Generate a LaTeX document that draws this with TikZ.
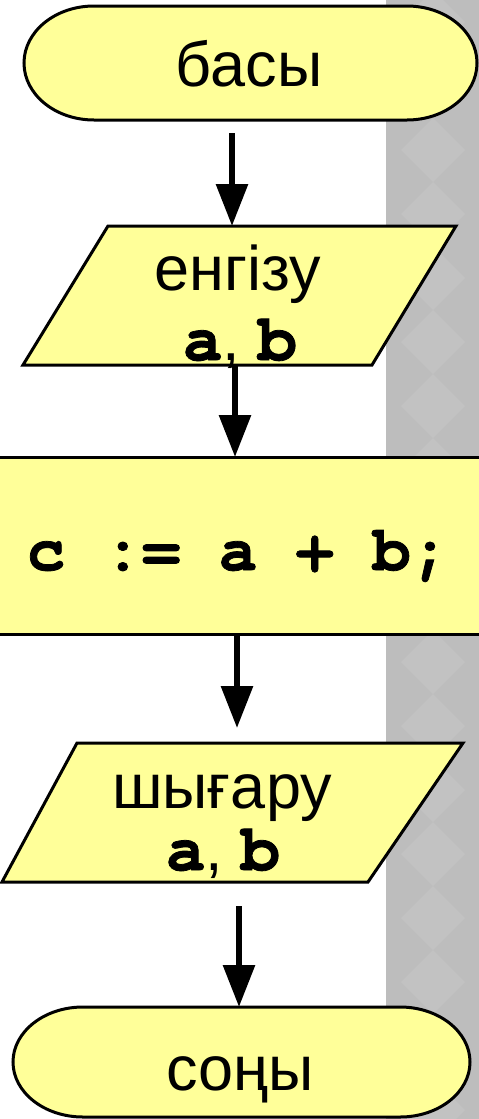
\documentclass[tikz,border=0pt]{standalone}
\usepackage{fontspec}
\setmainfont{Liberation Sans}
\newfontfamily\cmono{texgyrecursor}[Extension=.otf, UprightFont=*-bold, BoldFont=*-bold, FakeBold=1.2]
\usetikzlibrary{arrows.meta}
\definecolor{fyel}{RGB}{255,255,153}
\definecolor{bgdark}{RGB}{189,189,189}
\definecolor{bglight}{RGB}{194,194,194}
\newcommand{\mf}[1]{{\cmono\fontsize{66}{66}\selectfont #1}}
\tikzset{
  box/.style={line width=3pt, draw=black, fill=fyel},
  holder/.style={inner sep=0pt, outer sep=0pt},
  arr/.style={line width=6pt, -{Triangle[length=42pt,width=31pt]}},
  lbl/.style={inner sep=0pt, anchor=base, font=\fontsize{63}{63}\selectfont},
  monolbl/.style={inner sep=0pt, anchor=base, font=\cmono\fontsize{64}{64}\selectfont}
}
\begin{document}
\begin{tikzpicture}[x=1pt,y=1pt]
\useasboundingbox (0,0) rectangle (479,-1119);
% background strip
\begin{scope}
  \clip (386,0) rectangle (479,-1119);
  \fill[bgdark] (386,0) rectangle (479,-1119);
  \foreach \k in {-3,...,18} {
    \fill[bglight] (433,-150-64*\k+32) -- (465,-150-64*\k) -- (433,-150-64*\k-32) -- (401,-150-64*\k) -- cycle;
  }
\end{scope}

% start terminator
\node[holder, minimum width=453pt, minimum height=114pt] (start) at (250.5,-63) {};
\draw[box] ([xshift=70pt]start.north west) -- ([xshift=-70pt]start.north east)
  arc[start angle=90, end angle=-90, x radius=70pt, y radius=57pt]
  -- ([xshift=70pt]start.south west)
  arc[start angle=270, end angle=90, x radius=70pt, y radius=57pt] -- cycle;
\node[lbl] (tstart) at (249,-86) {басы};

% input parallelogram
\node[holder, minimum width=349pt, minimum height=139pt] (in1) at (239.5,-295.5) {};
\draw[box] (108,-226) -- (456,-226) -- (372,-365) -- (23,-365) -- cycle;
\node[lbl] (tin1) at (238,-290) {енгізу};
\node[lbl] (tin2) at (240,-360) {\mf{a}, \mf{b}};

% process
\node[holder, minimum width=490pt, minimum height=177pt] (proc) at (240,-545.5) {};
\draw[box] (proc.north west) rectangle (proc.south east);
\node[monolbl] (tproc) at (238,-570) {c := a + b;};

% output parallelogram
\node[holder, minimum width=391pt, minimum height=139pt] (out1) at (232.5,-812.5) {};
\draw[box] (77,-743) -- (463,-743) -- (368,-882) -- (2,-882) -- cycle;
\node[lbl] (tout1) at (222,-808) {шығару};
\node[lbl] (tout2) at (223,-870) {\mf{a}, \mf{b}};

% stop terminator
\node[holder, minimum width=457pt, minimum height=110pt] (stop) at (241.5,-1062) {};
\draw[box] ([xshift=70pt]stop.north west) -- ([xshift=-70pt]stop.north east)
  arc[start angle=90, end angle=-90, x radius=70pt, y radius=55pt]
  -- ([xshift=70pt]stop.south west)
  arc[start angle=270, end angle=90, x radius=70pt, y radius=55pt] -- cycle;
\node[lbl] (tstop) at (240,-1090) {соңы};

% connectors
\coordinate (a1s) at (232,-133);
\draw[arr] (a1s) -- (a1s |- in1.north);
\coordinate (c2) at (235,0);
\draw[arr] (c2 |- in1.south) -- (c2 |- proc.north);
\coordinate (c3) at (237,0);
\coordinate (a3e) at (237,-728);
\draw[arr] (c3 |- proc.south) -- (a3e);
\coordinate (a4s) at (239,-906);
\draw[arr] (a4s) -- (a4s |- stop.north);
\end{tikzpicture}
\end{document}
